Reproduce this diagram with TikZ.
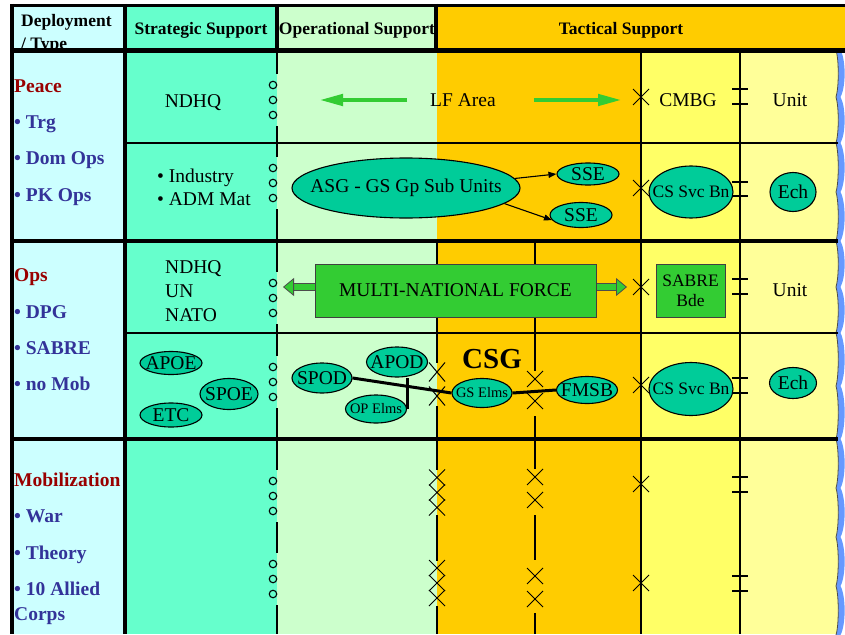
\documentclass[tikz,border=0pt]{standalone}
\usepackage{fontspec}
\setmainfont{Liberation Serif}
\usepackage{tikz}
\usetikzlibrary{arrows.meta, shapes.geometric, shapes.misc}

\definecolor{typecol}{HTML}{CCFFFF}
\definecolor{stratcol}{HTML}{66FFCC}
\definecolor{opcol}{HTML}{CCFFCC}
\definecolor{taccol}{HTML}{FFCC00}
\definecolor{cmbgcol}{HTML}{FFFF66}
\definecolor{unitcol}{HTML}{FFFF99}
\definecolor{elmcol}{HTML}{00CC99}
\definecolor{forcecol}{HTML}{33CC33}
\definecolor{edgecol}{HTML}{6699FF}
\definecolor{phasecol}{HTML}{990000}
\definecolor{itemcol}{HTML}{333399}

\newcommand{\bigtxt}{\fontsize{19.5}{22}\selectfont}
\newcommand{\midtxt}{\fontsize{17.5}{20}\selectfont}
\newcommand{\smalltxt}{\fontsize{14.5}{16}\selectfont}
\newcommand{\headtxt}{\fontsize{17.5}{20}\selectfont\bfseries}
\newcommand{\csgtxt}{\fontsize{29}{32}\selectfont\bfseries}

\begin{document}
\begin{tikzpicture}[x=1pt, y=-1pt]
  \tikzstyle{elm} = [draw, ellipse, fill=elmcol, line width=1.1pt, inner sep=0pt]
  \tikzstyle{force} = [draw=black!75, fill=forcecol, line width=1pt, inner sep=0pt, align=center]
  \tikzstyle{ring} = [draw, circle, minimum size=7.5pt, inner sep=0pt, line width=1.1pt]
  \tikzstyle{xcross} = [draw, cross out, minimum width=15pt, minimum height=15pt, inner sep=0pt, line width=1pt]
  \tikzstyle{phase} = [anchor=base west, font=\bigtxt\bfseries, text=phasecol, inner sep=0pt]
  \tikzstyle{item} = [anchor=base west, font=\bigtxt\bfseries, text=itemcol, inner sep=0pt]
  \tikzstyle{head} = [font=\headtxt, inner sep=0pt]
  \tikzstyle{txt} = [font=\bigtxt, inner sep=0pt]
  \tikzstyle{gridline} = [line width=2pt]
  \tikzstyle{boldline} = [line width=4pt]
  \tikzstyle{lfarrow} = [draw=forcecol, line width=4.5pt, -{Triangle[length=24pt, width=11pt]}]
  \tikzstyle{hollow} = [draw=black!70, line width=0.8pt, double=forcecol, double distance=6pt,
    -{Triangle[length=11pt, width=18pt, fill=forcecol]}]
  \tikzstyle{thinarrow} = [line width=1.1pt, -{Triangle[length=8pt, width=6pt]}]
  \tikzstyle{link} = [line width=3pt]
  \tikzset{every label/.style={font=\bigtxt, inner sep=0pt}}
  \useasboundingbox (0,0) rectangle (845,634);

  % column fills
  \fill[typecol] (12,5) rectangle (125,634);
  \fill[stratcol] (125,5) rectangle (277,634);
  \fill[opcol] (277,5) rectangle (437,634);
  \fill[taccol] (437,5) rectangle (845,50);
  \fill[taccol] (437,50) rectangle (641,634);
  \fill[cmbgcol] (641,50) rectangle (740,634);
  \fill[unitcol] (740,50) rectangle (836,634);

  % torn right edge
  \foreach \a/\b in {50/97, 97/143, 143/192, 192/241, 241/287, 287/333, 333/386, 386/439, 439/488, 488/537, 537/586, 586/635} {
    \fill[edgecol] (836,\a) .. controls (839,\a+10) and (839,\b-10) .. (836,\b) -- (840.5,\b)
      .. controls (846,\b-10) and (846,\a+10) .. (840.5,\a) -- cycle;
    \fill[unitcol] (836,\a) .. controls (839,\a+10) and (839,\b-10) .. (836,\b) -- cycle;
    \draw[black!70, line width=0.8pt] (836,\a) .. controls (839,\a+10) and (839,\b-10) .. (836,\b);
  }

  % header texts
  \node[head, anchor=base west] (deploy) at (21,27) {Deployment};
  \node[head, anchor=base west] (dtype) at (21,49) {/ Type};
  \node[head, anchor=base] (strat) at (201,35) {Strategic Support};
  \node[head, anchor=base] (oper) at (357,35) {Operational Support};
  \node[head, anchor=base] (tact) at (621,35) {Tactical Support};

  % frame and rows
  \draw[line width=3pt] (10.5,5.5) -- (845,5.5);
  \draw[line width=3.5pt] (12,4) -- (12,634);
  \draw[line width=3.5pt] (125,4) -- (125,634);
  \draw[line width=4pt] (277,4) -- (277,50);
  \draw[line width=4pt] (436,4) -- (436,50);
  \draw[line width=4.5pt] (10,50.5) -- (845,50.5);
  \draw[boldline] (10,241) -- (838,241);
  \draw[boldline] (10,439) -- (838,439);
  \draw[gridline] (125,143) -- (838,143);
  \draw[gridline] (125,333) -- (838,333);
  \draw[gridline] (641,50) -- (641,634);
  \draw[gridline] (740,50) -- (740,634);
  \foreach \a/\b in {50/74, 126/157, 209/272, 324/356, 408/470, 522/553, 605/634}
    \draw[gridline] (277,\a) -- (277,\b);
  \foreach \a/\b in {241/363, 406/437, 439/470, 515/561, 606/634}
    \draw[gridline] (437,\a) -- (437,\b);
  \foreach \a/\b in {241/371, 416/437, 439/469, 515/560, 613/634}
    \draw[gridline] (535,\a) -- (535,\b);

  % links between levels
  \foreach \y [count=\i] in {85,100,115, 168,183,198, 283,298,313, 367,382,397, 481,496,511, 564,579,594}
    \node[ring] (ring\i) at (273,\y) {};
  \foreach \y [count=\i] in {97, 188, 287, 385, 484, 583}
    \node[xcross] (cmx\i) at (641,\y) {};
  \node[xcross, minimum height=18pt] (opx1) at (437,372) {};
  \node[xcross, minimum height=18pt] (opx2) at (437,396) {};
  \foreach \y [count=\i] in {477.5, 492.5, 507.5, 568, 583, 598}
    \node[xcross] (mobx\i) at (437,\y) {};
  \foreach \y [count=\i] in {379, 401, 477, 500, 576, 599}
    \node[xcross] (csx\i) at (535,\y) {};
  \foreach \y in {89,104, 182,196, 279,294, 378,393, 477,492, 576,591}
    \draw[line width=2pt] (732,\y) -- (748,\y);

  % deployment / type
  \node[phase] (peace) at (14,92) {Peace};
  \node[item] (trg) at (14,128) {• Trg};
  \node[item] (domops) at (14,164) {• Dom Ops};
  \node[item] (pkops) at (14,201) {• PK Ops};
  \node[phase] (ops) at (14,281) {Ops};
  \node[item] (dpg) at (14,318) {• DPG};
  \node[item] (sabre) at (14,354) {• SABRE};
  \node[item] (nomob) at (14,390) {• no Mob};
  \node[phase] (mobil) at (14,486) {Mobilization};
  \node[item] (war) at (14,522) {• War};
  \node[item] (theory) at (14,559) {• Theory};
  \node[item] (allied) at (14,595) {• 10 Allied};
  \node[item] (corps) at (14,620) {Corps};

  % peace
  \node[txt, anchor=base] (ndhq) at (193,107) {NDHQ};
  \node[txt, anchor=base west] (indus) at (157,182) {• Industry};
  \node[txt, anchor=base west] (admmat) at (157,205) {• ADM Mat};
  \node[txt] (lf) at (463,100) {LF Area};
  \coordinate (lfw) at (319,100);
  \coordinate (lfe) at (622,100);
  \node[txt, anchor=base] (cmbg) at (688,106) {CMBG};
  \node[txt, anchor=base] (unit1) at (790,106) {Unit};
  \node[elm, minimum width=228, minimum height=60, label=center:ASG - GS Gp Sub Units] (asg) at (406,188) {};
  \node[elm, minimum width=62, minimum height=22, label=center:SSE] (sse1) at (588,174) {};
  \node[elm, minimum width=62, minimum height=25, label=center:SSE] (sse2) at (581,215) {};
  \node[elm, minimum width=84, minimum height=52, label={[font=\midtxt]center:CS Svc Bn}] (cssvc1) at (691,192) {};
  \node[elm, minimum width=46, minimum height=39, label=center:Ech] (ech1) at (793,192) {};

  % ops
  \node[txt, anchor=base west] (ndhq2) at (165,273) {NDHQ};
  \node[txt, anchor=base west] (un) at (165,297) {UN};
  \node[txt, anchor=base west] (nato) at (165,321) {NATO};
  \node[force, minimum width=281, minimum height=53, font=\bigtxt] (mnf) at (455.5,290.5) {MULTI-NATIONAL FORCE};
  \coordinate (mnfw) at (283,287);
  \coordinate (mnfe) at (627,287);
  \node[force, minimum width=69, minimum height=53, font=\midtxt] (sabrebde) at (690.5,290.5) {SABRE\\Bde};
  \node[txt, anchor=base] (unit2) at (790,296) {Unit};
  \node[elm, minimum width=62, minimum height=23, label=center:APOE] (apoe) at (171,363) {};
  \node[elm, minimum width=58, minimum height=31, label=center:SPOE] (spoe) at (229,394) {};
  \node[elm, minimum width=62, minimum height=24, label=center:ETC] (etc) at (171,415) {};
  \node[elm, minimum width=60, minimum height=30, label=center:SPOD] (spod) at (322,378) {};
  \node[elm, minimum width=61, minimum height=30, label=center:APOD] (apod) at (397,362) {};
  \node[elm, minimum width=61, minimum height=28, label={[font=\smalltxt]center:OP Elms}] (opelms) at (376,409) {};
  \node[font=\csgtxt, anchor=base, inner sep=0pt] (csg) at (492,368) {CSG};
  \node[elm, minimum width=60, minimum height=29, label={[font=\smalltxt]center:GS Elms}] (gselms) at (482,393) {};
  \node[elm, minimum width=61, minimum height=27, label=center:FMSB] (fmsb) at (587,390) {};
  \node[elm, minimum width=84, minimum height=53, label={[font=\midtxt]center:CS Svc Bn}] (cssvc2) at (691,389) {};
  \node[elm, minimum width=47, minimum height=31, label=center:Ech] (ech2) at (793,383) {};

  % connectors
  \draw[lfarrow, shorten <=23pt] (lf.west) -- (lfw);
  \draw[lfarrow, shorten <=38pt] (lf.east) -- (lfe);
  \draw[thinarrow] (asg.5) -- (sse1.west);
  \draw[thinarrow] (asg.-9) -- (sse2.190);
  \draw[hollow] (mnf.west |- mnfw) -- (mnfw);
  \draw[hollow] (mnf.east |- mnfe) -- (mnfe);
  \draw[link] (spod.east) -- (gselms.west);
  \draw[link] (gselms.east) -- (fmsb.west);
  \draw[link] (opelms.east) -- (opelms.east |- apod.south);
\end{tikzpicture}
\end{document}
